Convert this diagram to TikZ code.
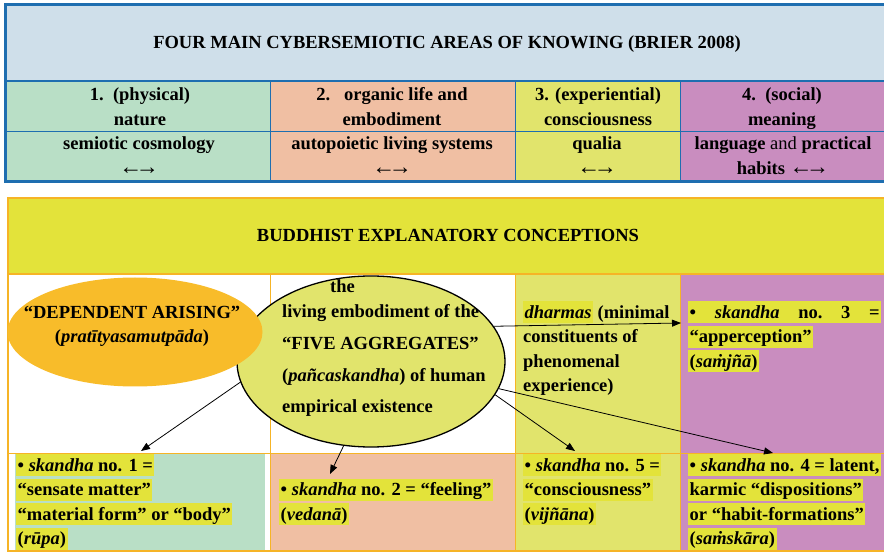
\documentclass[tikz,border=0pt]{standalone}
\usepackage{fontspec}
\setmainfont{Liberation Serif}
\usetikzlibrary{arrows.meta,shapes.geometric}

\definecolor{frameblue}{RGB}{30,110,176}
\definecolor{headblue}{RGB}{207,223,234}
\definecolor{physgreen}{RGB}{185,223,198}
\definecolor{orgsalmon}{RGB}{240,191,163}
\definecolor{expyellow}{RGB}{225,228,108}
\definecolor{socpurple}{RGB}{201,141,191}
\definecolor{frameorange}{RGB}{246,180,38}
\definecolor{buddhayellow}{RGB}{227,227,58}
\definecolor{arisingorange}{RGB}{248,188,42}

\newcommand{\bodyfont}{\fontsize{18.5}{24.5}\selectfont\bfseries}
% yellow marker behind one line of text
\newcommand{\hl}[1]{{\setlength{\fboxsep}{1.5pt}\colorbox{buddhayellow}{\rule[-3.5pt]{0pt}{19pt}#1}}}
% the two arrows under each area
\newcommand{\lrarr}{{\fontsize{23}{24.5}\selectfont\mdseries ←\kern-6.5pt→}}

\tikzset{
  cell/.style={font=\bodyfont, inner sep=0pt, align=center, anchor=base},
  txt/.style={font=\bodyfont, inner sep=0pt, align=left, anchor=base west},
  arr/.style={-{Triangle[length=9pt,width=7pt]}, line width=0.8pt},
}

\begin{document}
\begin{tikzpicture}[x=1pt,y=-1pt]
\useasboundingbox (0,0) rectangle (884,553);

% upper table: four areas of knowing
\fill[headblue] (5,5) rectangle (884,81);
\fill[physgreen] (5,81) rectangle (270,182);
\fill[orgsalmon] (270,81) rectangle (515,182);
\fill[expyellow] (515,81) rectangle (680,182);
\fill[socpurple] (680,81) rectangle (884,182);
\draw[frameblue, line width=0.8pt] (5,131) -- (884,131);
\foreach \x in {270,515,680}
  \draw[frameblue, line width=0.8pt] (\x,81) -- (\x,182);
\draw[frameblue, line width=2.2pt] (5,81) -- (884,81);
\draw[frameblue, line width=3pt] (884,5) -- (5,5) -- (5,182) -- (884,182);

\node[cell] (title) at (447,49) {FOUR MAIN CYBERSEMIOTIC AREAS OF KNOWING (BRIER 2008)};

% the base of a two-line node is its second line
\node[cell] (phys) at (140,125.5) {1.\ \ (physical)\\ nature};
\node[cell] (org) at (392,125.5) {2.\ \ \ organic life and\\ embodiment};
\node[cell] (exp) at (598,125.5) {3. (experiential)\\ consciousness};
\node[cell] (soc) at (782,125.5) {4.\ \ (social)\\ meaning};

\node[cell] (cosmo) at (139,174.5) {semiotic cosmology\\ \lrarr};
\node[cell] (auto) at (392,174.5) {autopoietic living systems\\ \lrarr};
\node[cell] (qual) at (597,174.5) {qualia\\ \lrarr};
\node[cell] (lang) at (783,174.5) {language {\mdseries and} practical\\ habits\ \lrarr};

% lower table: buddhist conceptions
\fill[buddhayellow] (8,198) rectangle (884,274);
\fill[expyellow] (515,274) rectangle (680,551);
\fill[socpurple] (680,274) rectangle (884,551);
\fill[physgreen] (15,453) rectangle (265,551);
\fill[orgsalmon] (270,453) rectangle (515,551);
\draw[frameorange, line width=0.8pt] (8,453) -- (884,453);
\foreach \x in {270,515,680}
  \draw[frameorange, line width=0.8pt] (\x,274) -- (\x,551);
\draw[frameorange, line width=2pt] (8,274) -- (884,274);
\draw[frameorange, line width=2.5pt] (884,198) -- (8,198) -- (8,551) -- (884,551);

\node[cell] (buddh) at (448,242) {BUDDHIST EXPLANATORY CONCEPTIONS};

\node[ellipse, draw, line width=1.3pt, fill=expyellow, inner sep=0pt,
  minimum width=268pt, minimum height=171pt] (aggr) at (371,361.5) {};
\node[ellipse, fill=arisingorange, inner sep=0pt,
  minimum width=255pt, minimum height=109pt] (arising) at (135,332) {};

\node[cell] (arisetxt) at (132,343) {“DEPENDENT ARISING”\\ (\textit{pratītyasamutpāda})};
\node[txt] (aggrtxt) at (282,413) {\hspace*{48pt}the\\ living embodiment of the\\[7.5pt]
  “FIVE AGGREGATES”\\[7.5pt] (\textit{pañcaskandha}) of human\\[7pt] empirical existence};

\node[txt] (dharma) at (523,391.5) {\hl{\textit{dharmas}} (minimal\\ constituents of\\ phenomenal\\ experience)};
\node[txt] (sk3) at (688,367) {\hl{\makebox[190pt][s]{•\hfill\textit{skandha}\hfill no.\hfill 3\hfill =}}\\
  \hl{“apperception”}\\ \hl{(\textit{saṁjñā})}};

\node[txt] (sk1) at (16,544.5) {\hl{• \textit{skandha} no. 1 =}\\ \hl{“sensate matter”}\\
  \hl{“material form” or “body”}\\ \hl{(\textit{rūpa})}};
\node[txt] (sk2) at (279,520) {\hl{• \textit{skandha} no. 2 = “feeling”}\\ \hl{(\textit{vedanā})}};
\node[txt] (sk5) at (523,520) {\hl{• \textit{skandha} no. 5 =}\\ \hl{“consciousness”}\\ \hl{(\textit{vijñāna})}};
\node[txt] (sk4) at (688,544.5) {\hl{• \textit{skandha} no. 4 = latent,}\\ \hl{karmic “dispositions”}\\
  \hl{or “habit-formations”}\\ \hl{(\textit{saṁskāra})}};

% arrows out of the five aggregates
\coordinate (to1) at (141,451);
\coordinate (to2) at (330,474);
\coordinate (to5) at (575,451);
\coordinate (to4) at (773,453);
\coordinate (to3) at (681,323);
\draw[arr] (aggr.189) -- (to1);
\draw[arr] (aggr.252) -- (to2);
\draw[arr] (aggr.345) -- (to5);
\draw[arr] (aggr.348) -- (to4);
\draw[arr] (aggr.16) -- (to3);
\end{tikzpicture}
\end{document}
